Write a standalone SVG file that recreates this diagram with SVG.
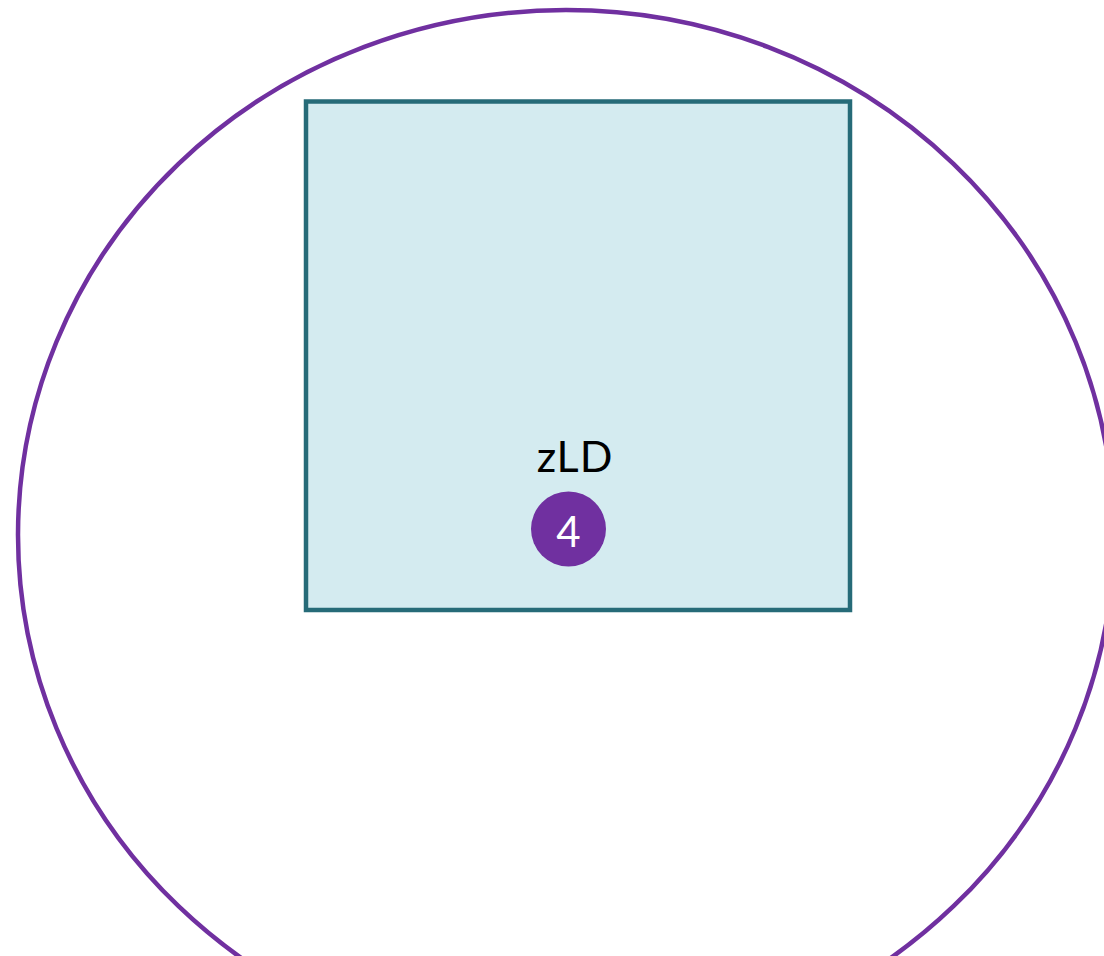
<svg xmlns="http://www.w3.org/2000/svg" width="1104" height="956" viewBox="0 0 1104 956">
<style>
.label{font-family:Lato,"Open Sans","Liberation Sans",sans-serif;font-size:43px;fill:#000;text-anchor:middle;letter-spacing:1px}
.badge-text{font-family:Lato,"Open Sans","Liberation Sans",sans-serif;font-size:42px;fill:#fff;text-anchor:middle}
</style>
<rect width="1104" height="956" fill="#fff"/>
<g id="boundary">
<ellipse cx="566" cy="535" rx="548" ry="525" fill="none" stroke="#7030a0" stroke-width="4.5"/>
</g>
<g id="node-zLD">
<rect x="306" y="101.5" width="544" height="508.5" fill="#d4ebf0" stroke="#266b78" stroke-width="4.5"/>
<text class="label" x="575" y="472">zLD</text>
<circle cx="568.5" cy="529" r="37.5" fill="#7030a0"/>
<text class="badge-text" x="568.5" y="547">4</text>
</g>
<g id="connectors"/>
</svg>
